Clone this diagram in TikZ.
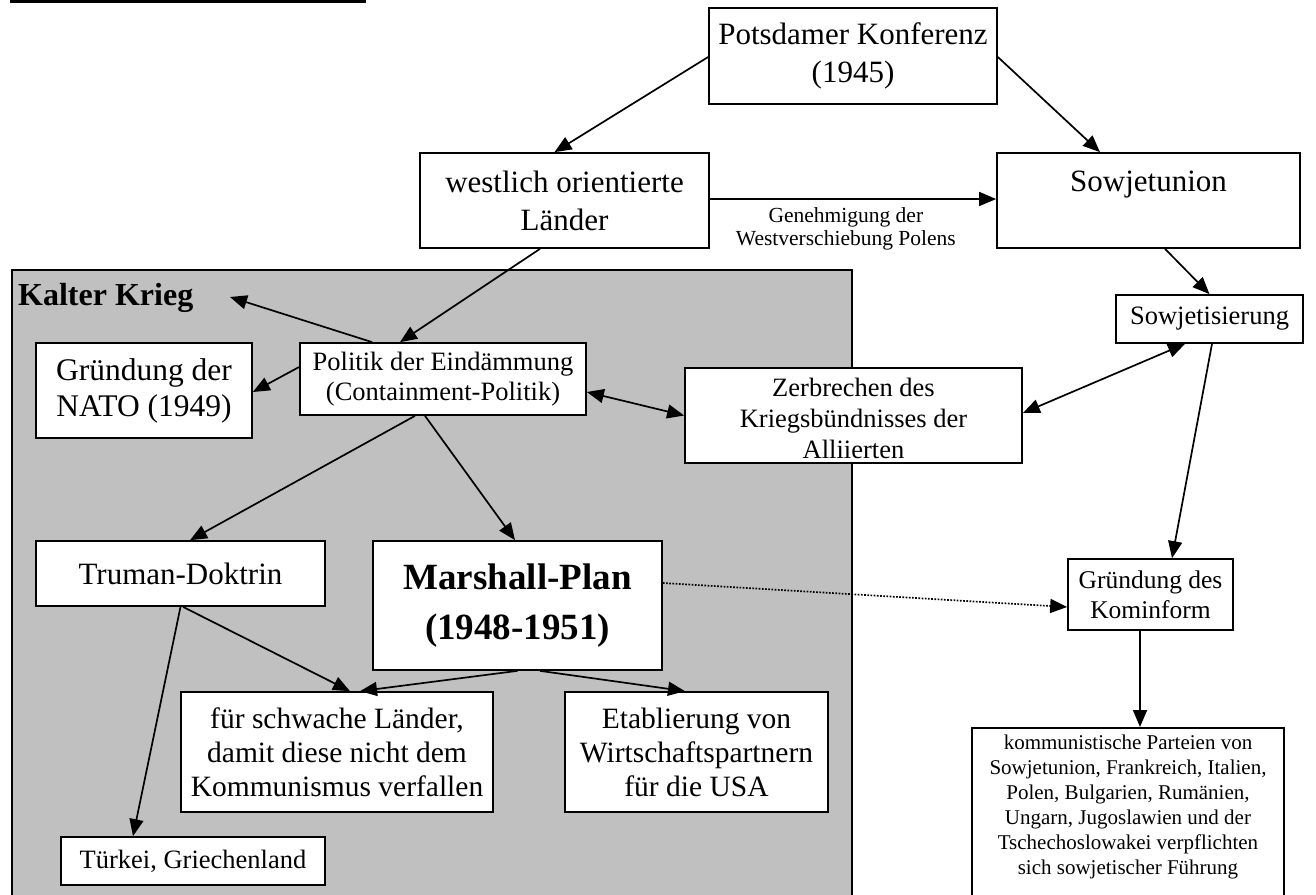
\documentclass[tikz,border=0pt]{standalone}
\usepackage{fontspec}
\setmainfont{Liberation Serif}
\usetikzlibrary{arrows.meta,calc}
\definecolor{panelgray}{RGB}{192,192,192}
\begin{document}
\begin{tikzpicture}[x=1pt,y=-1pt,
  bx/.style={draw, fill=white, line width=1.7pt, inner sep=0pt, align=center},
  tipa/.tip={Triangle[length=17pt,width=14pt]},
  arr/.style={line width=1.7pt, -tipa},
  darr/.style={line width=1.7pt, tipa-tipa},
  dotarr/.style={line width=1.7pt, dash pattern=on 1.7pt off 1.5pt, -tipa},
  fbig/.style={font=\fontsize{31}{38}\selectfont},
  fmid/.style={font=\fontsize{26.5}{30}\selectfont},
  flow/.style={font=\fontsize{29.5}{34}\selectfont},
  fsmall/.style={font=\fontsize{21}{25}\selectfont},
  flabel/.style={font=\fontsize{21.5}{23}\selectfont},
]
\useasboundingbox (0,0) rectangle (1316,894);
\clip (0,0) rectangle (1316,894);

% top-left rule
\draw[line width=2.6pt] (10,1.2) -- (366,1.2);

% panel
\draw[fill=panelgray, line width=1.7pt] (12,270) rectangle (852,920);
\node[anchor=base west, inner sep=0pt, font=\fontsize{32}{36}\selectfont\bfseries] (kk) at (18,305) {Kalter Krieg};
\coordinate (kkt) at (230,297);

% boxes
\node[bx, fbig, minimum width=288pt, minimum height=96pt] (pots) at (853,56) {Potsdamer Konferenz\\(1945)};
\node[bx, fbig, minimum width=289pt, minimum height=95pt] (west) at (564.5,200.5) {westlich orientierte\\Länder};
\node[bx, fbig, minimum width=303pt, minimum height=95pt] (sowj) at (1148.5,200.5) {Sowjetunion\\\mbox{}};
\node[bx, font=\fontsize{31.5}{36}\selectfont, minimum width=216pt, minimum height=95pt] (nato) at (144,390.5) {Gründung der\\NATO (1949)};
\node[bx, font=\fontsize{26.5}{30}\selectfont, minimum width=286pt, minimum height=72pt] (polit) at (443,379) {Politik der Eindämmung\\(Containment-Politik)};
\node[bx, font=\fontsize{26.5}{31}\selectfont, minimum width=337pt, minimum height=95pt] (zerb) at (853.5,415.5) {\rule{0pt}{25pt}Zerbrechen des\\Kriegsbündnisses der\\Alliierten};
\node[bx, fmid, minimum width=187pt, minimum height=48pt] (sowi) at (1209.5,319) {Sowjetisierung};
\node[bx, fbig, minimum width=289pt, minimum height=65pt] (trum) at (180.5,573.5) {Truman-Doktrin};
\node[bx, font=\fontsize{37}{50}\selectfont\bfseries, minimum width=289pt, minimum height=129pt] (mars) at (517.5,605.5) {Marshall-Plan\\(1948-1951)};
\node[bx, font=\fontsize{25.5}{30}\selectfont, minimum width=165pt, minimum height=71pt] (komi) at (1150.5,594.5) {Gründung des\\Kominform};
\node[bx, flow, minimum width=312pt, minimum height=120pt] (schw) at (337,752) {für schwache Länder,\\damit diese nicht dem\\Kommunismus verfallen};
\node[bx, flow, minimum width=263pt, minimum height=120pt] (etab) at (696.5,752) {Etablierung von\\Wirtschaftspartnern\\für die USA};
\node[bx, fmid, minimum width=264pt, minimum height=48pt] (turk) at (193,861) {Türkei, Griechenland};
\node[bx, fsmall, anchor=north, minimum width=312pt, inner ysep=7pt] (komm) at (1128,727) {kommunistische Parteien von\\Sowjetunion, Frankreich, Italien,\\Polen, Bulgarien, Rumänien,\\Ungarn, Jugoslawien und der\\Tschechoslowakei verpflichten\\sich sowjetischer Führung\\\mbox{}\\\mbox{}};

% connectors
\draw[arr] ($(pots.west)+(0,1)$) -- ($(west.north)+(-10,0)$);
\draw[arr] ($(pots.east)+(0,1)$) -- ($(sowj.north)+(-48.5,0)$);
\draw[arr] ($(west.east)+(0,-1.5)$) -- ($(sowj.west)+(0,-1.5)$)
  node[pos=0.475, below=8pt, flabel, align=center, inner sep=0pt] (lab) {Genehmigung der\\Westverschiebung Polens};
\draw[arr] ($(west.south)+(-24.5,0)$) -- ($(polit.north)+(-43,0)$);
\draw[arr] ($(polit.north west)+(73,0)$) -- (kkt);
\draw[arr] ($(polit.west)+(0,-12)$) -- ($(nato.east)+(0,1.5)$);
\draw[darr] ($(polit.east)+(0,13)$) -- (zerb.west);
\draw[arr] ($(sowj.south)+(16.5,0)$) -- (sowi.north);
\draw[darr] ($(zerb.east)+(0,-2.5)$) -- ($(sowi.south)+(-24.5,0)$);
\draw[arr] ($(sowi.south)+(2.5,0)$) -- ($(komi.north)+(21.5,0)$);
\draw[arr] ($(komi.south)+(-10.5,0)$) -- ($(komm.north)+(12,0)$);
\draw[dotarr] ($(mars.east)+(0,-22.5)$) -- ($(komi.west)+(0,12.5)$);
\draw[arr] ($(polit.south)+(-28,0)$) -- ($(trum.north)+(9.5,0)$);
\draw[arr] ($(polit.south)+(-18,0)$) -- ($(mars.north)+(-2.5,0)$);
\draw[arr] ($(trum.south)+(2.5,0)$) -- ($(schw.north)+(13,0)$);
\draw[arr] (trum.south) -- ($(turk.north)+(-60,0)$);
\draw[arr] (mars.south) -- ($(schw.north)+(23,0)$);
\draw[arr] ($(mars.south)+(22.5,0)$) -- ($(etab.north)+(-11.5,0)$);
\end{tikzpicture}
\end{document}
